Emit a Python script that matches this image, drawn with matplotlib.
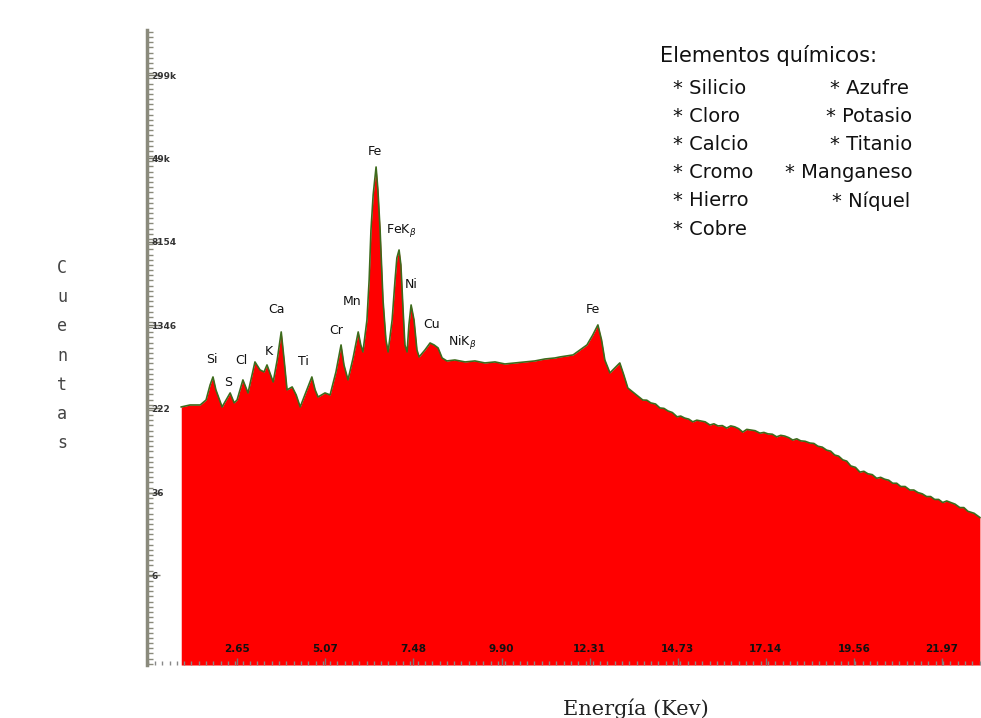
import numpy as np
import matplotlib
matplotlib.use("Agg")
import matplotlib.pyplot as plt
from matplotlib.ticker import FixedLocator, MultipleLocator, NullFormatter

# espectro EDX: energia (keV) y cuentas
energia = [1.12, 1.36, 1.64, 1.80, 1.91, 1.99, 2.07, 2.24, 2.35, 2.46, 2.57, 2.65,
           2.81, 2.95, 3.06, 3.14, 3.28, 3.39, 3.47, 3.64, 3.75, 3.86, 3.94, 4.02,
           4.16, 4.27, 4.38, 4.54, 4.70, 4.79, 4.87, 5.06, 5.20, 5.36, 5.50, 5.58,
           5.69, 5.83, 5.97, 6.04, 6.10, 6.21, 6.27, 6.32, 6.38, 6.46, 6.51, 6.57,
           6.65, 6.73, 6.79, 6.90, 6.98, 7.03, 7.09, 7.14, 7.20, 7.25, 7.31, 7.36,
           7.42, 7.50, 7.58, 7.64, 7.80, 7.94, 8.05, 8.16, 8.27, 8.40, 8.62, 8.90,
           9.17, 9.44, 9.72, 9.99, 10.27, 10.54, 10.81, 11.09, 11.36, 11.50, 11.86,
           12.24, 12.40, 12.54, 12.64, 12.73, 12.87, 13.14, 13.25, 13.36,
           13.77, 13.88, 13.99, 14.12, 14.24, 14.35, 14.46, 14.58, 14.71, 14.81,
           14.92, 15.03, 15.14, 15.25, 15.36, 15.48, 15.61, 15.72, 15.83, 15.95,
           16.07, 16.18, 16.29, 16.40, 16.51, 16.62, 16.73, 16.85, 16.98, 17.09,
           17.20, 17.32, 17.44, 17.55, 17.66, 17.77, 17.88, 17.99, 18.10, 18.22,
           18.35, 18.46, 18.57, 18.69, 18.81, 18.92, 19.03, 19.14, 19.25, 19.36,
           19.47, 19.60, 19.72, 19.83, 19.94, 20.06, 20.18, 20.29, 20.40, 20.51,
           20.62, 20.73, 20.84, 20.96, 21.09, 21.20, 21.31, 21.43, 21.55, 21.66,
           21.77, 21.88, 21.99, 22.10, 22.21, 22.33, 22.46, 22.57, 22.68, 22.85,
           23.01]
cuentas = [229, 239, 239, 266, 368, 438, 331, 229, 266, 310, 250, 266,
           411, 310, 457, 606, 510, 488, 568, 393, 632, 1159, 632, 331,
           353, 297, 229, 316, 438, 331, 284, 310, 297, 488, 875, 568,
           411, 660, 1159, 875, 752, 1501, 3570, 10500, 22400, 41000, 24950, 10500,
           2313, 975, 752, 1501, 3570, 5740, 6820, 4930, 1864, 875, 752, 1349,
           2077, 1501, 785, 675, 785, 913, 875, 820, 660, 619, 632, 606,
           619, 593, 606, 580, 593, 606, 619, 646, 660, 675, 705,
           875, 1086, 1349, 975, 632, 478, 593, 457, 345,
           266, 265, 250, 244, 224, 222, 210, 203, 185, 188,
           180, 176, 166, 172, 169, 166, 155, 159, 152, 153,
           145, 152, 149, 143, 133, 141, 139, 137, 130, 132,
           128, 127, 120, 124, 122, 118, 112, 115, 110, 109,
           105, 104, 98, 96, 90, 88, 81, 79, 73, 71,
           64, 62, 56, 57, 54, 53, 49, 50, 48, 47,
           44, 44, 41, 41, 38, 38, 36, 35, 33, 33,
           31, 31, 29, 30, 29, 28, 26, 26, 24, 23,
           21]

# escala del eje de cuentas
y_ticks = [6, 36, 222, 1346, 8154, 49300, 299000]
y_labels = ["6", "36", "222", "1346", "8154", "49k", "299k"]
x_ticks = [2.65, 5.07, 7.48, 9.90, 12.31, 14.73, 17.14, 19.56, 21.97]

# etiquetas de picos
picos = ["Si", "S", "Cl", "K", "Ca", "Ti", "Cr", "Mn", "Fe", "FeK$_{\\beta}$",
         "Ni", "Cu", "NiK$_{\\beta}$", "Fe"]
picos_x = [1.97, 2.40, 2.76, 3.53, 3.72, 4.46, 5.36, 5.80, 6.43, 7.14,
           7.42, 7.97, 8.81, 12.40]
picos_y = [632, 385, 619, 752, 1864, 606, 1184, 2215, 56700, 10280,
           3200, 1349, 913, 1864]

elementos_izq = ["* Silicio", "* Cloro", "* Calcio", "* Cromo", "* Hierro", "* Cobre"]
elementos_der = ["* Azufre", "* Potasio", "* Titanio", "* Manganeso", "* Níquel"]

fig = plt.figure(figsize=(9.81, 7.18), dpi=100)
ax = fig.add_axes([0.1498, 0.0738, 0.8502, 0.8844])

ymin = 0.865
ax.fill_between(energia, cuentas, ymin, color="#ff0000", lw=0)
ax.plot(energia, cuentas, color="#3d6b1c", lw=1.2)

ax.set_yscale("log")
ax.set_xlim(0.18, 23.04)
ax.set_ylim(ymin, 792000)

for s in ["top", "right", "bottom"]:
    ax.spines[s].set_visible(False)
ax.spines["left"].set_color("#8a8a7c")
ax.spines["left"].set_linewidth(2.5)

ax.yaxis.set_major_locator(FixedLocator(y_ticks))
ax.set_yticklabels(y_labels)
step = np.log10(y_ticks[1] / y_ticks[0])
ax.yaxis.set_minor_locator(FixedLocator(10 ** np.arange(-0.1, 6.0, step / 16)))
ax.yaxis.set_minor_formatter(NullFormatter())
ax.tick_params(axis="y", which="major", direction="in", length=9, width=1,
               color="#77776a", pad=-3, labelsize=6.5, labelcolor="#333333")
ax.tick_params(axis="y", which="minor", direction="in", length=4, width=1,
               color="#8a8a7c")
for lab in ax.get_yticklabels():
    lab.set_horizontalalignment("left")
    lab.set_fontweight("bold")

ax.set_xticks(x_ticks)
ax.set_xticklabels(["%.2f" % v for v in x_ticks])
ax.xaxis.set_minor_locator(MultipleLocator(0.2))
ax.tick_params(axis="x", which="major", direction="in", length=5, width=1,
               color="#777777", pad=-15, labelsize=7.5, labelcolor="#111111")
ax.tick_params(axis="x", which="minor", direction="in", length=3, width=1,
               color="#888888")
for lab in ax.get_xticklabels():
    lab.set_fontweight("bold")

for t, x, y in zip(picos, picos_x, picos_y):
    ax.text(x, y, t, ha="center", va="center", fontsize=9, color="#111111")

# leyenda de elementos
fig.text(660 / 981, 1 - 55 / 718, "Elementos químicos:", fontsize=15,
         va="center", ha="left", color="#111111")
for i, t in enumerate(elementos_izq):
    fig.text(673 / 981, 1 - (88 + 28.2 * i) / 718, t, fontsize=14,
             va="center", ha="left", color="#111111")
der_x = [830, 826, 830, 785, 832]
for i, t in enumerate(elementos_der):
    fig.text(der_x[i] / 981, 1 - (88 + 28.2 * i) / 718, t, fontsize=14,
             va="center", ha="left", color="#111111")

for i, c in enumerate("Cuentas"):
    fig.text(62 / 981, 1 - (268 + 29.2 * i) / 718, c, fontsize=12,
             family="DejaVu Sans Mono", ha="center", va="center", color="#444444")

fig.text(636 / 981, 1 - 709 / 718, "Energía (Kev)", fontsize=15,
         family="DejaVu Serif", ha="center", va="center", color="#222222")

plt.savefig("out.png", dpi=100)
